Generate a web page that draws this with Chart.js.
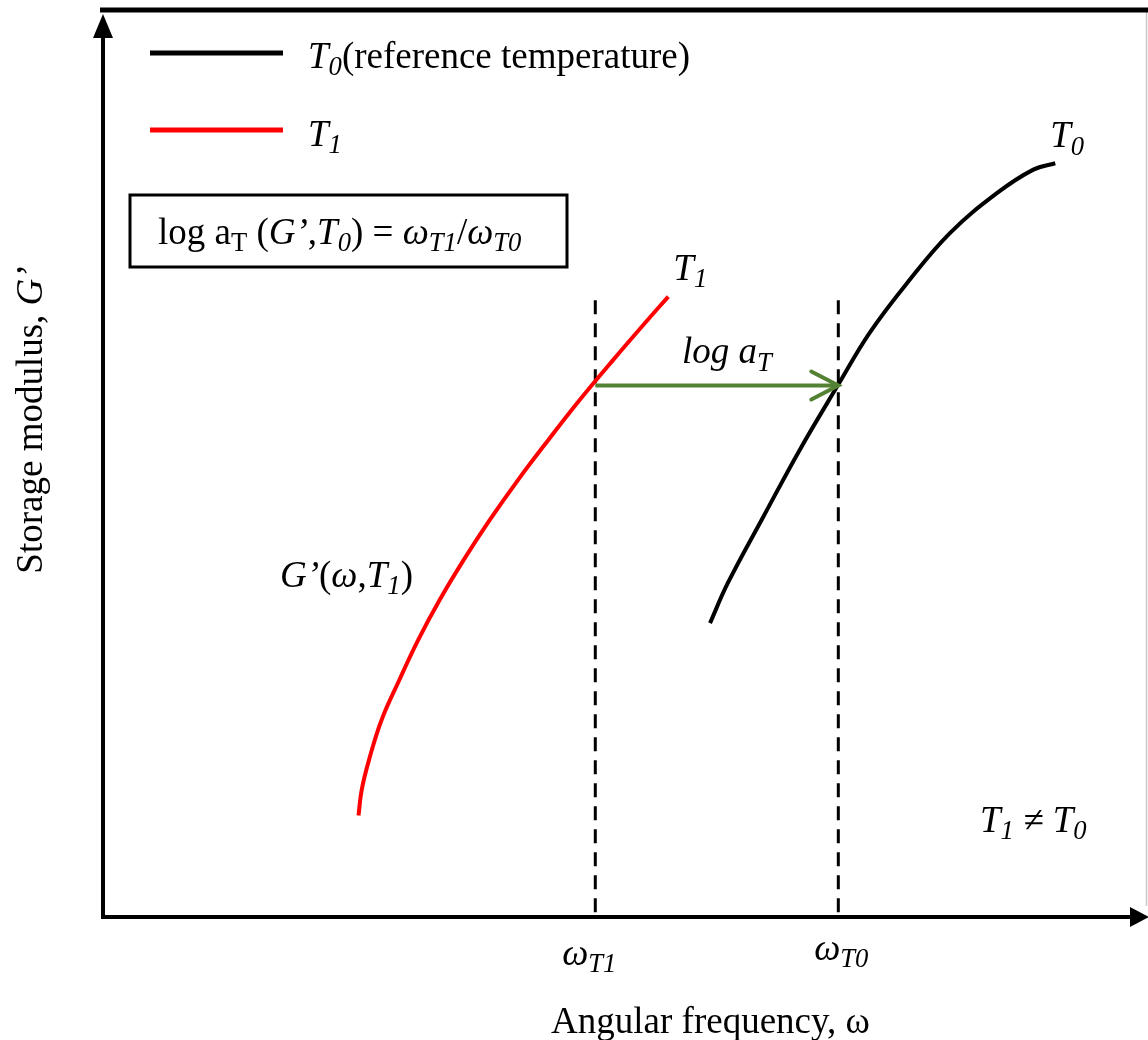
<!DOCTYPE html>
<html>
<head>
<meta charset="utf-8">
<script src="https://cdn.jsdelivr.net/npm/chart.js@4.4.0/dist/chart.umd.min.js"></script>
<style>
  html, body { margin: 0; padding: 0; background: #fff; }
  #wrap { width: 1148px; height: 1040px; position: relative; }
</style>
</head>
<body>
<div id="wrap"><canvas id="ttsChart"></canvas></div>
<script>
// Schematic time-temperature shift: x = log angular frequency, y = log G' (arbitrary units 0..10)
const t1X = [2.45, 2.48, 2.55, 2.67, 2.84, 3.02, 3.23, 3.46, 3.71, 3.98, 4.27, 4.57, 4.89, 5.22, 5.42];
const t1Y = [1.12, 1.40, 1.73, 2.17, 2.61, 3.05, 3.50, 3.94, 4.38, 4.82, 5.26, 5.70, 6.14, 6.58, 6.84];
const t0X = [5.82, 5.99, 6.33, 6.68, 7.05, 7.35, 7.71, 8.12, 8.57, 8.92, 9.13];
const t0Y = [3.24, 3.68, 4.41, 5.15, 5.87, 6.44, 6.99, 7.54, 7.98, 8.24, 8.31];
const omegaT1 = 4.72;   // where T1 curve reaches the G' level
const omegaT0 = 7.05;   // where T0 curve reaches the same G' level
const shiftLevel = 5.86;
const guideTop = 6.8;

const FONT = '"Liberation Serif", "Times New Roman", serif';
const SIZE = 37;

const pts = (xs, ys) => xs.map((x, i) => ({ x: x, y: ys[i] }));

// draws text made of pieces: style "i" = italic, "s" = subscript
function drawRich(ctx, x, y, parts, align) {
  const segs = parts.map(([t, st = '']) => {
    const sub = st.includes('s');
    const fs = sub ? SIZE * 0.72 : SIZE;
    const font = (st.includes('i') ? 'italic ' : '') + fs + 'px ' + FONT;
    ctx.font = font;
    return { t: t, font: font, dy: sub ? SIZE * 0.2 : 0, w: ctx.measureText(t).width };
  });
  const total = segs.reduce((a, s) => a + s.w, 0);
  let cx = align === 'center' ? x - total / 2 : x;
  ctx.textAlign = 'left';
  ctx.textBaseline = 'alphabetic';
  ctx.fillStyle = '#000';
  segs.forEach(s => {
    ctx.font = s.font;
    ctx.fillText(s.t, cx, y + s.dy);
    cx += s.w;
  });
}

// --------------------
// Frame, axes with arrows, legend, annotations
// --------------------
const decorPlugin = {
  id: 'decor',
  afterDatasetsDraw(chart) {
    const ctx = chart.ctx;
    const area = chart.chartArea;
    const xs = chart.scales.x, ys = chart.scales.y;
    ctx.save();

    // right thin border
    ctx.strokeStyle = '#c8c8c8';
    ctx.lineWidth = 1.5;
    ctx.beginPath();
    ctx.moveTo(1146.5, area.top);
    ctx.lineTo(1146.5, 906);
    ctx.stroke();

    ctx.strokeStyle = '#000';
    ctx.fillStyle = '#000';
    // top border
    ctx.lineWidth = 5;
    ctx.beginPath();
    ctx.moveTo(area.left - 3, area.top);
    ctx.lineTo(1148, area.top);
    ctx.stroke();

    // y axis
    ctx.lineWidth = 4;
    ctx.beginPath();
    ctx.moveTo(area.left, area.bottom + 2);
    ctx.lineTo(area.left, 34);
    ctx.stroke();
    ctx.beginPath();
    ctx.moveTo(area.left, 14);
    ctx.lineTo(area.left - 10, 38);
    ctx.lineTo(area.left + 10, 38);
    ctx.closePath();
    ctx.fill();

    // x axis
    ctx.beginPath();
    ctx.moveTo(area.left - 2, area.bottom);
    ctx.lineTo(1134, area.bottom);
    ctx.stroke();
    ctx.beginPath();
    ctx.moveTo(1149, area.bottom);
    ctx.lineTo(1130, area.bottom - 10);
    ctx.lineTo(1130, area.bottom + 10);
    ctx.closePath();
    ctx.fill();

    // green arrow head
    const tipX = xs.getPixelForValue(omegaT0), tipY = ys.getPixelForValue(shiftLevel);
    ctx.strokeStyle = '#548235';
    ctx.lineWidth = 4;
    ctx.lineCap = 'round';
    ctx.beginPath();
    ctx.moveTo(tipX - 27, tipY - 14);
    ctx.lineTo(tipX, tipY);
    ctx.lineTo(tipX - 27, tipY + 14);
    ctx.stroke();
    ctx.lineCap = 'butt';

    // legend
    const dsT0 = chart.data.datasets[0], dsT1 = chart.data.datasets[1];
    ctx.lineWidth = 5;
    ctx.strokeStyle = dsT0.borderColor;
    ctx.beginPath(); ctx.moveTo(150, 53); ctx.lineTo(283, 53); ctx.stroke();
    ctx.strokeStyle = dsT1.borderColor;
    ctx.beginPath(); ctx.moveTo(150, 130); ctx.lineTo(283, 130); ctx.stroke();
    drawRich(ctx, 308, 68, [['T', 'i'], ['0', 'is'], ['(reference temperature)']]);
    drawRich(ctx, 308, 146, [['T', 'i'], ['1', 'is']]);

    // formula box
    ctx.strokeStyle = '#000';
    ctx.lineWidth = 3;
    ctx.strokeRect(130, 195, 437, 72);
    drawRich(ctx, 158, 244, [
      ['log a'], ['T', 's'], [' ('], ['G\u2019', 'i'], [','], ['T', 'i'], ['0', 'is'], [') = '],
      ['\u03c9', 'i'], ['T1', 'is'], ['/'], ['\u03c9', 'i'], ['T0', 'is']
    ]);

    // curve labels
    const t1End = { x: xs.getPixelForValue(t1X[t1X.length - 1]), y: ys.getPixelForValue(t1Y[t1Y.length - 1]) };
    const t0End = { x: xs.getPixelForValue(t0X[t0X.length - 1]), y: ys.getPixelForValue(t0Y[t0Y.length - 1]) };
    drawRich(ctx, t1End.x + 5, t1End.y - 17, [['T', 'i'], ['1', 'is']]);
    drawRich(ctx, t0End.x - 5, t0End.y - 16, [['T', 'i'], ['0', 'is']]);
    drawRich(ctx, (xs.getPixelForValue(omegaT1) + tipX) / 2 + 10, tipY - 22, [['log a', 'i'], ['T', 'is']], 'center');
    drawRich(ctx, 280, 587, [['G\u2019', 'i'], ['('], ['\u03c9', 'i'], [','], ['T', 'i'], ['1', 'is'], [')']]);
    drawRich(ctx, 980, 832, [['T', 'i'], ['1', 'is'], [' \u2260 ', 'i'], ['T', 'i'], ['0', 'is']]);

    // frequency marks under the axis
    drawRich(ctx, xs.getPixelForValue(omegaT1) - 6, 965, [['\u03c9', 'i'], ['T1', 'is']], 'center');
    drawRich(ctx, xs.getPixelForValue(omegaT0) + 3, 960, [['\u03c9', 'i'], ['T0', 'is']], 'center');

    // axis titles
    drawRich(ctx, (area.left + 1148) / 2 + 85, 1033, [['Angular frequency, \u03c9']], 'center');
    ctx.translate(42, 420);
    ctx.rotate(-Math.PI / 2);
    drawRich(ctx, 0, 0, [['Storage modulus, '], ['G\u2019', 'i']], 'center');

    ctx.restore();
  }
};

// --------------------
// Chart
// --------------------
const ctx = document.getElementById('ttsChart').getContext('2d');
new Chart(ctx, {
  type: 'scatter',
  data: {
    datasets: [
      {
        label: 'T0 (reference temperature)',
        data: pts(t0X, t0Y),
        showLine: true,
        borderColor: '#000000',
        borderWidth: 4,
        pointRadius: 0,
        tension: 0.4
      },
      {
        label: 'T1',
        data: pts(t1X, t1Y),
        showLine: true,
        borderColor: '#ff0000',
        borderWidth: 4,
        pointRadius: 0,
        tension: 0.4
      },
      {
        label: 'log aT',
        data: [{ x: omegaT1, y: shiftLevel }, { x: omegaT0, y: shiftLevel }],
        showLine: true,
        borderColor: '#548235',
        borderWidth: 4,
        pointRadius: 0
      },
      {
        label: 'omega T1',
        data: [{ x: omegaT1, y: guideTop }, { x: omegaT1, y: 0 }],
        showLine: true,
        borderColor: '#000000',
        borderWidth: 3,
        borderDash: [14, 9],
        pointRadius: 0
      },
      {
        label: 'omega T0',
        data: [{ x: omegaT0, y: guideTop }, { x: omegaT0, y: 0 }],
        showLine: true,
        borderColor: '#000000',
        borderWidth: 3,
        borderDash: [14, 9],
        pointRadius: 0
      }
    ]
  },
  options: {
    responsive: true,
    maintainAspectRatio: false,
    animation: false,
    layout: { padding: { left: 103, top: 10, right: 2, bottom: 123 } },
    scales: {
      x: { type: 'linear', min: 0, max: 10, display: false },
      y: { type: 'linear', min: 0, max: 10, display: false }
    },
    plugins: {
      legend: { display: false },
      tooltip: { enabled: false }
    }
  },
  plugins: [decorPlugin]
});
</script>
</body>
</html>
